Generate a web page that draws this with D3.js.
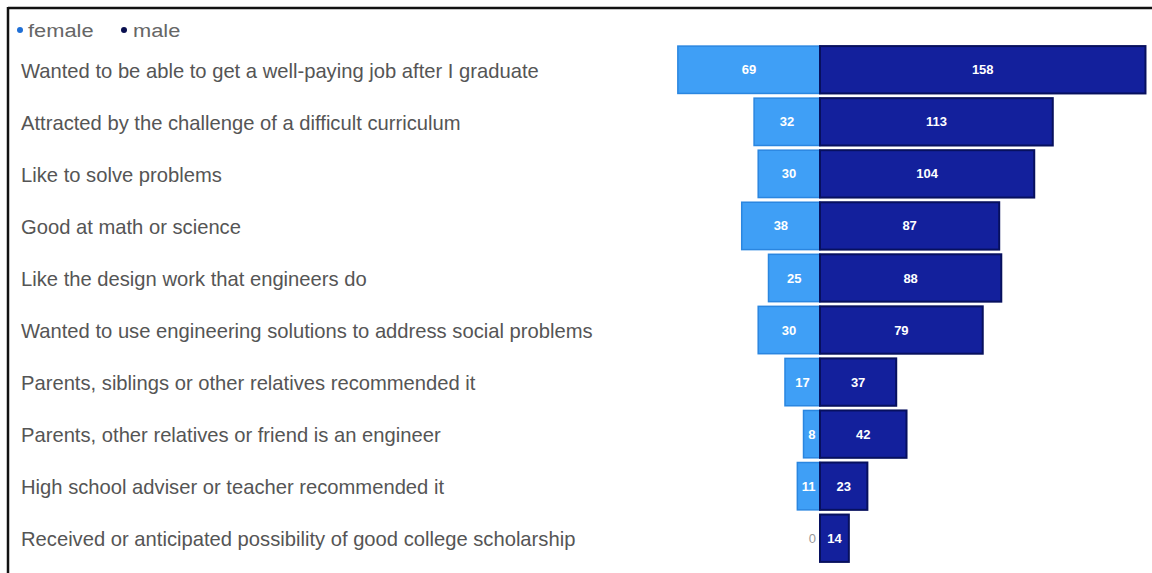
<!DOCTYPE html>
<html><head><meta charset="utf-8">
<script src="https://cdn.jsdelivr.net/npm/d3@7/dist/d3.min.js"></script>
<style>
body{margin:0;background:#fff;}
svg{display:block;}
</style></head>
<body>
<svg id="chart" width="1152" height="573"></svg>
<script>
const categories = [
  "Wanted to be able to get a well-paying job after I graduate",
  "Attracted by the challenge of a difficult curriculum",
  "Like to solve problems",
  "Good at math or science",
  "Like the design work that engineers do",
  "Wanted to use engineering solutions to address social problems",
  "Parents, siblings or other relatives recommended it",
  "Parents, other relatives or friend is an engineer",
  "High school adviser or teacher recommended it",
  "Received or anticipated possibility of good college scholarship"
];
const female = [69, 32, 30, 38, 25, 30, 17, 8, 11, 0];
const male = [158, 113, 104, 87, 88, 79, 37, 42, 23, 14];
const seriesNames = ["female", "male"];

const svg = d3.select("#chart");
const W = 1152, H = 573;
const cx = 820;
const k = 2.06;
const x = d3.scaleLinear().domain([-69, 158]).range([cx - 69 * k, cx + 158 * k]);
const y = d3.scaleBand().domain(categories).range([44, 564]).paddingInner(0.09).paddingOuter(0.04);

const colF = "#3f9ff6", colM = "#13209c";

// frame
svg.append("line").attr("x1", 8).attr("x2", W).attr("y1", 8).attr("y2", 8).attr("stroke", "#111").attr("stroke-width", 2.5);
svg.append("line").attr("x1", 8).attr("x2", 8).attr("y1", 7).attr("y2", H).attr("stroke", "#111").attr("stroke-width", 2.5);

// legend
const leg = svg.append("g");
const legItems = [{n: seriesNames[0], c: "#1f6fd6", x: 20, tx: 28}, {n: seriesNames[1], c: "#0a1050", x: 124, tx: 133}];
legItems.forEach(d => {
  leg.append("circle").attr("cx", d.x).attr("cy", 30).attr("r", 3).attr("fill", d.c);
  leg.append("text").attr("x", d.tx).attr("y", 30).attr("dy", "0.35em")
    .attr("font-family", "Liberation Sans, Arial, sans-serif").attr("font-size", 19)
    .attr("transform", `translate(${d.tx},0) scale(1.15,1) translate(${-d.tx},0)`)
    .attr("fill", "#666").text(d.n);
});

// category labels
svg.append("g").selectAll("text").data(categories).join("text")
  .attr("x", 21).attr("y", d => y(d) + y.bandwidth() / 2 + 1).attr("dy", "0.35em")
  .attr("font-family", "Liberation Sans, Arial, sans-serif").attr("font-size", 20.2).attr("fill", "#555")
  .text(d => d);

const rows = categories.map((c, i) => ({c, f: female[i], m: male[i]}));

// female bars
svg.append("g").selectAll("rect").data(rows.filter(d => d.f > 0)).join("rect")
  .attr("x", d => x(-d.f)).attr("y", d => y(d.c)).attr("width", d => x(0) - x(-d.f)).attr("height", y.bandwidth())
  .attr("fill", colF).attr("stroke", "#2a86e0").attr("stroke-width", 1.5);
// male bars
svg.append("g").selectAll("rect").data(rows).join("rect")
  .attr("x", x(0)).attr("y", d => y(d.c)).attr("width", d => x(d.m) - x(0)).attr("height", y.bandwidth())
  .attr("fill", colM).attr("stroke", "#07105e").attr("stroke-width", 2);

// value labels
const lab = svg.append("g").attr("font-family", "Liberation Sans, Arial, sans-serif").attr("font-size", 13).attr("font-weight", "bold");
lab.selectAll(".fl").data(rows).join("text")
  .attr("x", d => d.f > 0 ? (x(-d.f) + x(0)) / 2 : x(0) - 4)
  .attr("y", d => y(d.c) + y.bandwidth() / 2).attr("dy", "0.35em")
  .attr("text-anchor", d => d.f > 0 ? "middle" : "end")
  .attr("fill", d => d.f > 0 ? "#fff" : "#999")
  .attr("font-weight", d => d.f > 0 ? "bold" : "normal")
  .text(d => d.f);
lab.selectAll(".ml").data(rows).join("text")
  .attr("x", d => (x(0) + x(d.m)) / 2)
  .attr("y", d => y(d.c) + y.bandwidth() / 2).attr("dy", "0.35em")
  .attr("text-anchor", "middle").attr("fill", "#fff")
  .text(d => d.m);
</script>
</body></html>
